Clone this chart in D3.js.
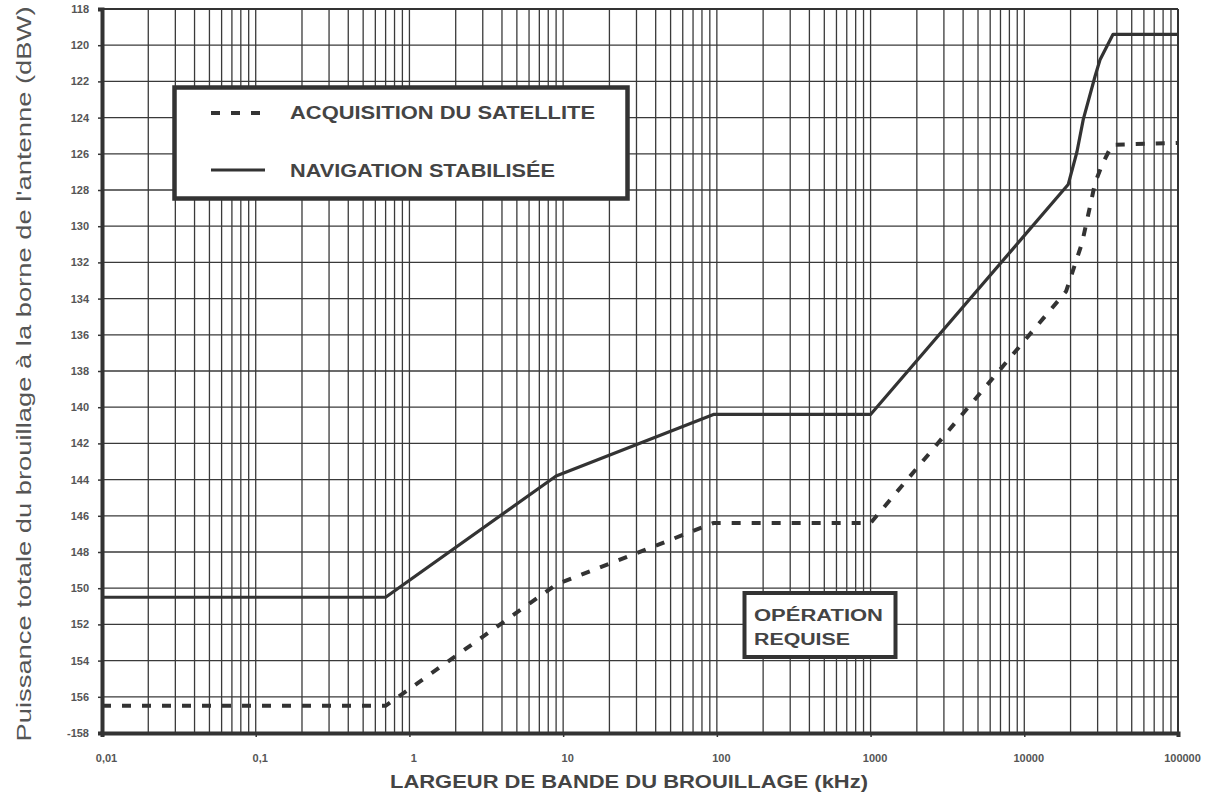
<!DOCTYPE html>
<html><head><meta charset="utf-8">
<script src="https://cdn.jsdelivr.net/npm/d3@7"></script>
<style>body{margin:0;background:#fff;} svg{display:block;}</style>
</head><body><svg id="c" width="1217" height="796"></svg>
<script>
// ---- data ----
const navX = [0.01, 0.7, 9, 95, 1000, 19300, 22000, 24200, 28900, 31100, 37800, 100000];
const navY = [-150.5, -150.5, -143.8, -140.4, -140.4, -127.7, -125.9, -124.1, -121.7, -120.8, -119.4, -119.4];
const acqX = [0.01, 0.7, 9, 95, 1000, 18700, 23800, 28900, 32100, 37200, 100000];
const acqY = [-156.5, -156.5, -149.8, -146.4, -146.4, -133.6, -130.9, -127.6, -126.6, -125.5, -125.4];
const xTickValues = [0.01, 0.1, 1, 10, 100, 1000, 10000, 100000];
const xTickLabels = ["0,01", "0,1", "1", "10", "100", "1000", "10000", "100000"];
const yTickValues = [-118,-120,-122,-124,-126,-128,-130,-132,-134,-136,-138,-140,-142,-144,-146,-148,-150,-152,-154,-156,-158];
const yTickLabels = ["118","120","122","124","126","128","130","132","134","136","138","140","142","144","146","148","150","152","154","156","-158"];
const seriesNames = ["ACQUISITION DU SATELLITE", "NAVIGATION STABILISÉE"];
const xTitle = "LARGEUR DE BANDE DU BROUILLAGE (kHz)";
const yTitle = "Puissance totale du brouillage à la borne de l'antenne (dBW)";
const noteLines = ["OPÉRATION", "REQUISE"];

// ---- drawing ----
const svg = d3.select("#c");
const L = 102, R = 1178, T = 9, B = 733;
const x = d3.scaleLog().domain([0.01, 100000]).range([L, R]);
const y = d3.scaleLinear().domain([-118, -158]).range([T, B]);
const ink = "#333";

// vertical grid (log minor)
const vgrid = [];
for (let e = -2; e < 5; e++) for (let k = 1; k <= 9; k++) vgrid.push(k * Math.pow(10, e));
vgrid.push(100000);
svg.append("g").selectAll("line").data(vgrid).join("line")
  .attr("x1", d => x(d)).attr("x2", d => x(d)).attr("y1", T).attr("y2", B)
  .attr("stroke", "#3a3a3a").attr("stroke-width", 1.3);
// horizontal grid
svg.append("g").selectAll("line").data(yTickValues).join("line")
  .attr("x1", L).attr("x2", R).attr("y1", d => y(d)).attr("y2", d => y(d))
  .attr("stroke", "#3a3a3a").attr("stroke-width", 1.3);

// frame
svg.append("line").attr("x1", L).attr("x2", R).attr("y1", T).attr("y2", T).attr("stroke", ink).attr("stroke-width", 2);
svg.append("line").attr("x1", R).attr("x2", R).attr("y1", T).attr("y2", B).attr("stroke", ink).attr("stroke-width", 2);

// axes
const yAxis = d3.axisLeft(y).tickValues(yTickValues).tickSize(4)
  .tickFormat((d, i) => yTickLabels[i]);
const gy = svg.append("g").attr("transform", `translate(${L},0)`).call(yAxis);
gy.select(".domain").attr("stroke", ink).attr("stroke-width", 4);
gy.selectAll(".tick line").attr("stroke", ink).attr("stroke-width", 1.5);
gy.selectAll(".tick text").attr("font-family", "Liberation Sans, Arial, sans-serif")
  .attr("font-size", 11).attr("font-weight", "bold").attr("fill", "#555").attr("x", -13);

const xAxis = d3.axisBottom(x).tickValues(xTickValues).tickSize(4)
  .tickFormat((d, i) => xTickLabels[i]);
const gx = svg.append("g").attr("transform", `translate(0,${B})`).call(xAxis);
gx.select(".domain").attr("stroke", ink).attr("stroke-width", 4);
gx.selectAll(".tick line").attr("stroke", ink).attr("stroke-width", 1.5);
gx.selectAll(".tick text").attr("font-family", "Liberation Sans, Arial, sans-serif")
  .attr("font-size", 11).attr("font-weight", "bold").attr("fill", "#555").attr("dx", 4).attr("y", 21);

// series
const line = d3.line().x(d => x(d[0])).y(d => y(d[1]));
svg.append("path").datum(acqX.map((v, i) => [v, acqY[i]])).attr("d", line)
  .attr("fill", "none").attr("stroke", ink).attr("stroke-width", 4).attr("stroke-dasharray", "9,11");
svg.append("path").datum(navX.map((v, i) => [v, navY[i]])).attr("d", line)
  .attr("fill", "none").attr("stroke", ink).attr("stroke-width", 3.2).attr("stroke-linejoin", "round");

// legend
const lg = svg.append("g");
lg.append("rect").attr("x", 174.5).attr("y", 87.5).attr("width", 453).attr("height", 111)
  .attr("fill", "#fff").attr("stroke", ink).attr("stroke-width", 4.5);
lg.append("line").attr("x1", 211).attr("x2", 263).attr("y1", 113).attr("y2", 113)
  .attr("stroke", ink).attr("stroke-width", 4).attr("stroke-dasharray", "9,11");
lg.append("line").attr("x1", 211).attr("x2", 265).attr("y1", 170).attr("y2", 170)
  .attr("stroke", ink).attr("stroke-width", 3);
const legendTextY = [119, 177];
const legendTextW = [305, 265];
lg.selectAll("text.lt").data(seriesNames).join("text").attr("class", "lt")
  .attr("x", 290).attr("y", (d, i) => legendTextY[i])
  .attr("textLength", (d, i) => legendTextW[i]).attr("lengthAdjust", "spacingAndGlyphs")
  .attr("font-family", "Liberation Sans, Arial, sans-serif").attr("font-size", 17.5)
  .attr("font-weight", "bold").attr("fill", "#444").text(d => d);

// note box
const nb = svg.append("g");
nb.append("rect").attr("x", 744.5).attr("y", 593).attr("width", 151).attr("height", 64)
  .attr("fill", "#fff").attr("stroke", ink).attr("stroke-width", 4);
const noteY = [621, 645];
const noteW = [129, 96];
nb.selectAll("text").data(noteLines).join("text")
  .attr("x", 754).attr("y", (d, i) => noteY[i])
  .attr("textLength", (d, i) => noteW[i]).attr("lengthAdjust", "spacingAndGlyphs")
  .attr("font-family", "Liberation Sans, Arial, sans-serif").attr("font-size", 16)
  .attr("font-weight", "bold").attr("fill", "#444").text(d => d);

// axis titles
svg.append("text").attr("x", 629).attr("y", 788).attr("text-anchor", "middle")
  .attr("textLength", 478).attr("lengthAdjust", "spacingAndGlyphs")
  .attr("font-family", "Liberation Sans, Arial, sans-serif").attr("font-size", 17.5)
  .attr("font-weight", "bold").attr("fill", "#444").text(xTitle);
svg.append("text").attr("transform", "translate(31,374) rotate(-90)").attr("text-anchor", "middle")
  .attr("textLength", 735).attr("lengthAdjust", "spacingAndGlyphs")
  .attr("font-family", "Liberation Sans, Arial, sans-serif").attr("font-size", 21)
  .attr("fill", "#555").text(yTitle);
</script></body></html>
